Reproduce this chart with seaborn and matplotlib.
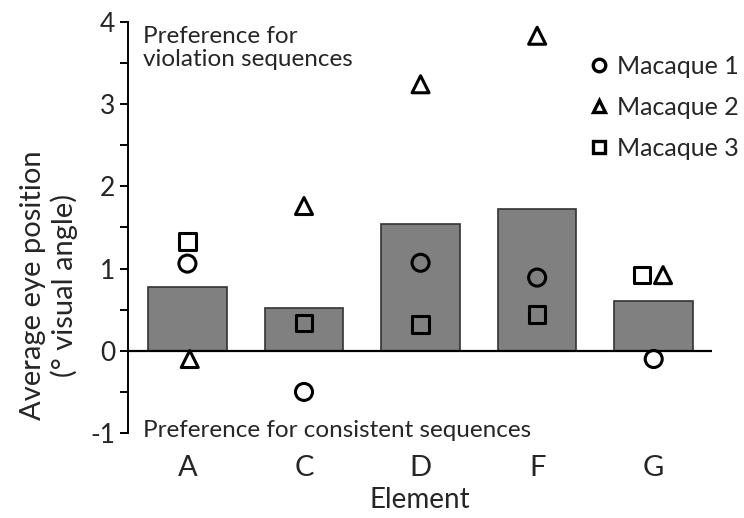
import matplotlib
matplotlib.use("Agg")
import matplotlib.pyplot as plt
from matplotlib.lines import Line2D
from matplotlib.ticker import MultipleLocator
import seaborn as sns
import pandas as pd
import numpy as np

elements = ["A", "C", "D", "F", "G"]
bar_means = [0.77, 0.52, 1.54, 1.72, 0.60]
macaque1 = [1.06, -0.50, 1.07, 0.89, -0.10]
macaque2 = [-0.10, 1.76, 3.24, 3.83, 0.92]
macaque3 = [1.33, 0.34, 0.32, 0.44, 0.92]
series_names = ["Macaque 1", "Macaque 2", "Macaque 3"]

sns.set_theme(style="ticks")
plt.rcParams["font.family"] = ["Lato", "DejaVu Sans"]

fig = plt.figure(figsize=(7.44, 5.18), dpi=100)
ax = fig.add_axes([0.172, 0.164, 0.785, 0.794])

df = pd.DataFrame({"Element": elements, "Value": bar_means})
sns.barplot(data=df, x="Element", y="Value", color="#808080", saturation=1,
            width=0.675, edgecolor="#333333", linewidth=1.2, ax=ax)

markers = ["o", "^", "s"]
sizes = [150, 150, 140]
# small horizontal offsets used only where markers would overlap (category G)
offsets = {"Macaque 1": [0, 0, 0, 0, 0],
           "Macaque 2": [0.02, 0, 0, 0, 0.08],
           "Macaque 3": [0, 0, 0, 0, -0.10]}
for name, vals, m, s in zip(series_names, [macaque1, macaque2, macaque3], markers, sizes):
    xs = np.arange(len(elements)) + np.array(offsets[name])
    sns.scatterplot(x=xs, y=vals, marker=m, s=s, facecolors="none",
                    edgecolor="black", linewidth=2.2, ax=ax, zorder=5)

ax.axhline(0, color="black", lw=1.6, zorder=4)
ax.set_xlim(-0.51, 4.5)
ax.set_ylim(-1, 4)
ax.yaxis.set_major_locator(MultipleLocator(1))
ax.yaxis.set_minor_locator(MultipleLocator(0.5))
ax.set_yticks([-1, 0, 1, 2, 3, 4])
ax.set_yticklabels(["-1", "0", "1", "2", "3", "4"])
for s in ["top", "right", "bottom"]:
    ax.spines[s].set_visible(False)
ax.spines["left"].set_linewidth(1.4)
ax.spines["left"].set_color("black")
ax.tick_params(axis="y", which="major", length=6, width=1.4, labelsize=19, pad=3, color="black")
ax.tick_params(axis="y", which="minor", length=6, width=1.4, color="black")
ax.tick_params(axis="x", length=0, labelsize=21, pad=16)

ax.set_xlabel("Element", fontsize=20, labelpad=4)
ax.set_ylabel("Average eye position\n(° visual angle)", fontsize=21, linespacing=1.2)
ax.yaxis.set_label_coords(-0.085, 0.36)

ax.text(0.025, 0.99, "Preference for\nviolation sequences", transform=ax.transAxes,
        fontsize=17.5, va="top", ha="left", linespacing=1.1)
ax.text(0.025, -0.01, "Preference for consistent sequences", transform=ax.transAxes,
        fontsize=17.5, va="baseline", ha="left")

handles = [Line2D([], [], marker=m, linestyle="none", markerfacecolor="none",
                  markeredgecolor="black", markeredgewidth=2.4, markersize=9)
           for m in markers]
ax.legend(handles, series_names, loc="upper right", bbox_to_anchor=(1.045, 0.92),
          frameon=False, fontsize=18, handletextpad=0.3, handlelength=0.8,
          labelspacing=0.72, borderaxespad=0, borderpad=0)

fig.savefig("out.png", dpi=100)
